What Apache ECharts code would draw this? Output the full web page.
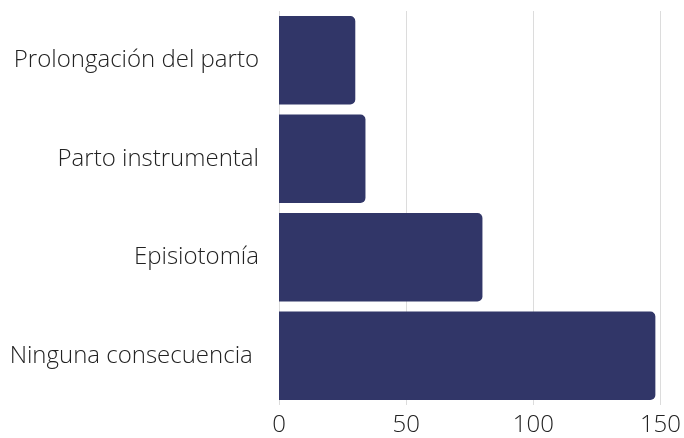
<!DOCTYPE html>
<html><head><meta charset="utf-8">
<script src="https://cdn.jsdelivr.net/npm/echarts@6/dist/echarts.min.js"></script>
<style>html,body{margin:0;padding:0;background:#fff}#c{width:684px;height:438px}</style>
</head><body><div id="c"></div>
<script>
const categories = ["Ninguna consecuencia ", "Episiotomía", "Parto instrumental", "Prolongación del parto"];
const values = [148, 80, 34, 30];
const xTicks = [0, 50, 100, 150];

const chart = echarts.init(document.getElementById('c'), null, {renderer: 'canvas'});
chart.setOption({
  animation: false,
  grid: {left: 279, right: 23, top: 11, bottom: 33, containLabel: false},
  xAxis: {
    type: 'value', min: xTicks[0], max: xTicks[xTicks.length - 1], interval: 50,
    axisLine: {show: false}, axisTick: {show: false},
    splitLine: {show: true, lineStyle: {color: '#dcdcdc', width: 1}},
    axisLabel: {fontFamily: 'Open Sans', fontWeight: 300, fontSize: 24, color: '#222', margin: 8}
  },
  yAxis: {
    type: 'category', data: categories,
    axisLine: {show: false}, axisTick: {show: false},
    axisLabel: {fontFamily: 'Open Sans', fontWeight: 300, fontSize: 24, color: '#222', margin: 20}
  },
  series: [{
    type: 'bar', data: values, barCategoryGap: '10%',
    itemStyle: {color: '#313668', borderRadius: [0, 5, 5, 0]}
  }]
});
</script></body></html>
